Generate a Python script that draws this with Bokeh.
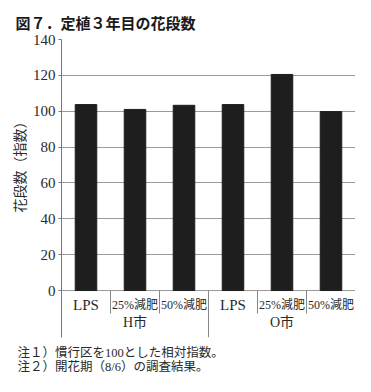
from bokeh.plotting import figure
from bokeh.models import Range1d, FixedTicker, ColumnDataSource, Title
from bokeh.core.properties import value
from bokeh.embed import file_html
from bokeh.resources import INLINE

# ---- data ----
groups = ["H市", "O市"]
treatments = ["LPS", "25%減肥", "50%減肥"]
values = [103.7, 101.0, 103.3, 103.7, 120.5, 99.8]
y_ticks = [0, 20, 40, 60, 80, 100, 120, 140]
title_text = "図７．定植３年目の花段数"
y_title = "花段数（指数）"
notes = ["注１）慣行区を100とした相対指数。", "注２）開花期（8/6）の調査結果。"]

n_cat = len(groups) * len(treatments)
x_pos = [i + 0.5 for i in range(n_cat)]
cat_labels = [t for g in groups for t in treatments]

Y_BOTTOM = -26.2  # label area below zero, inside frame
SERIF = "Liberation Serif"
CJK = "Noto Sans CJK JP"
MIX = "Liberation Serif, Noto Sans CJK JP"
TXT = "#2a2a2a"

p = figure(width=355, height=384, output_backend="svg", toolbar_location=None,
           x_range=Range1d(0, n_cat), y_range=Range1d(Y_BOTTOM, 140),
           min_border_left=61, min_border_right=0, min_border_top=39, min_border_bottom=47)
p.outline_line_color = None
p.background_fill_color = "white"
p.border_fill_color = "white"

# title
p.title.text = title_text
p.title.text_font = CJK
p.title.text_font_size = "15px"
p.title.text_font_style = "bold"
p.title.text_color = "#1a1a1a"
p.title.offset = -46
p.title.standoff = 13

# axes
p.xaxis.visible = False
p.xgrid.visible = False
p.yaxis.ticker = FixedTicker(ticks=y_ticks)
p.ygrid.ticker = FixedTicker(ticks=y_ticks)
p.ygrid.grid_line_color = "#9a9a9a"
p.ygrid.grid_line_width = 1
p.yaxis.axis_line_color = "#777777"
p.yaxis.major_tick_line_color = "#777777"
p.yaxis.major_tick_out = 3
p.yaxis.major_tick_in = 0
p.yaxis.minor_tick_line_color = None
p.yaxis.major_label_text_font = SERIF
p.yaxis.major_label_text_font_size = "15px"
p.yaxis.major_label_text_color = TXT
p.yaxis.major_label_standoff = 3

# y-axis title (left side, shifted toward the 0..140 part)
p.add_layout(Title(text=y_title, align="left", offset=125, standoff=0, vertical_align="middle",
                   text_font=CJK, text_font_size="14px", text_font_style="normal",
                   text_color=TXT), "left")

# bars
src = ColumnDataSource(dict(x=x_pos, top=values))
p.vbar(x="x", top="top", bottom=0, width=0.44, source=src,
       fill_color="#1e1e1e", line_color="#1e1e1e")

# separators in label area
short_x = [i for i in range(1, n_cat) if i % len(treatments) != 0]
group_x = [i * len(treatments) for i in range(1, len(groups) + 1)]
p.segment(x0=short_x, y0=[0] * len(short_x), x1=short_x, y1=[-12.8] * len(short_x),
          line_color="#888888", line_width=1)
p.segment(x0=group_x, y0=[0] * len(group_x), x1=group_x, y1=[Y_BOTTOM] * len(group_x),
          line_color="#888888", line_width=1)

# category labels
lps_idx = [i for i, c in enumerate(cat_labels) if c == "LPS"]
oth_idx = [i for i, c in enumerate(cat_labels) if c != "LPS"]
p.text(x=[x_pos[i] for i in lps_idx], y=[-7.8] * len(lps_idx), text=[cat_labels[i] for i in lps_idx],
       text_font=value(SERIF), text_font_size="15px", text_color=TXT,
       text_align="center", text_baseline="middle")
p.text(x=[x_pos[i] for i in oth_idx], y=[-7.8] * len(oth_idx), text=[cat_labels[i] for i in oth_idx],
       text_font=value(MIX), text_font_size="12px", text_color=TXT,
       text_align="center", text_baseline="middle")
# group labels
gx = [len(treatments) * (i + 0.5) for i in range(len(groups))]
p.text(x=gx, y=[-18.0] * len(groups), text=groups,
       text_font=value(MIX), text_font_size="14px", text_color=TXT,
       text_align="center", text_baseline="middle")

# footnotes (one two-line block)
p.add_layout(Title(text="\n".join(notes), align="left", offset=17 - 61, standoff=12,
                   text_font=MIX, text_font_size="12.5px", text_font_style="normal",
                   text_line_height=1.05, text_color=TXT), "below")

open("out.html", "w").write(file_html(p, INLINE))
